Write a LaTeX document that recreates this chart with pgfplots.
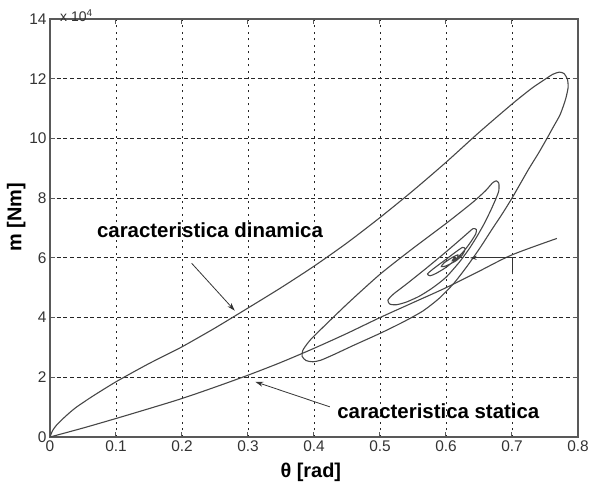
\documentclass[border=0pt]{standalone}
\usepackage{fontspec}
\setmainfont{Liberation Sans}
\usepackage{pgfplots}
\pgfplotsset{compat=1.18}
\usetikzlibrary{arrows.meta}

\begin{document}
\begin{tikzpicture}
\useasboundingbox (0,0) rectangle (589bp,489bp);
\begin{axis}[
  at={(50bp,52bp)}, anchor=south west,
  scale only axis, width=528bp, height=418bp,
  clip mode=individual,
  xmin=0, xmax=0.8, ymin=0, ymax=14,
  xtick={0,0.1,0.2,0.3,0.4,0.5,0.6,0.7,0.8},
  xticklabels={0,0.1,0.2,0.3,0.4,0.5,0.6,0.7,0.8},
  ytick={0,2,4,6,8,10,12,14},
  yticklabels={0,2,4,6,8,10,12,14},
  tick align=inside, xtick pos=both, ytick pos=both,
  major tick length=5bp,
  grid=major,
  x grid style={black!85, line width=0.8bp, dash pattern=on 2bp off 4.5bp},
  y grid style={black!85, line width=0.8bp, dash pattern=on 4bp off 2.7bp},
  axis line style={black!65, line width=1.2bp},
  tick style={black!65, line width=1bp},
  ticklabel style={font=\fontsize{15.5}{18}\selectfont, text=black!80},
  /pgf/number format/assume math mode=true,
  xlabel={θ [rad]}, ylabel={m [Nm]},
  label style={font=\fontsize{20}{24}\selectfont\bfseries},
  xlabel style={at={(axis description cs:0.494,-0.084)}, anchor=center},
  ylabel style={at={(axis description cs:-0.064,0.526)}, anchor=center},
]
% static characteristic
\addplot[black!72, line width=1.1bp, smooth] coordinates {
(0,0) (0.05,0.3) (0.1,0.62) (0.15,0.95) (0.2,1.29) (0.25,1.67) (0.3,2.07)
(0.35,2.5) (0.4,2.97) (0.45,3.47) (0.5,4.0) (0.55,4.5) (0.6,5.0)
(0.65,5.55) (0.7,6.1) (0.768,6.65)
};
% dynamic characteristic
\addplot[black!72, line width=1.1bp, smooth, tension=0.4] coordinates {
(0,0) (0.004,0.22) (0.01,0.4) (0.02,0.62) (0.03,0.82) (0.04,1.0) (0.06,1.3)
(0.08,1.58) (0.1,1.85) (0.125,2.16) (0.15,2.46) (0.175,2.74) (0.2,3.02)
(0.25,3.65) (0.3,4.32) (0.35,5.0) (0.4,5.72) (0.45,6.5) (0.5,7.35)
(0.55,8.25) (0.6,9.2) (0.65,10.2) (0.7,11.15) (0.73,11.68) (0.75,11.98)
(0.762,12.15) (0.772,12.22) (0.779,12.17) (0.784,11.98) (0.785,11.7)
(0.781,11.3) (0.773,10.8) (0.763,10.4) (0.753,10.0) (0.74,9.5) (0.726,9.0)
(0.713,8.5) (0.7,8.0) (0.686,7.5) (0.671,7.0) (0.652,6.35) (0.632,5.72)
(0.612,5.15) (0.59,4.65) (0.565,4.22) (0.535,3.85) (0.5,3.47) (0.46,3.07)
(0.43,2.76) (0.41,2.57) (0.398,2.52) (0.388,2.56) (0.382,2.7) (0.383,2.9)
(0.39,3.13) (0.4,3.38) (0.45,4.45) (0.5,5.45) (0.55,6.32) (0.6,7.15)
(0.64,7.85) (0.66,8.25) (0.67,8.5) (0.676,8.58) (0.68,8.5) (0.68,8.25)
(0.676,8.0) (0.668,7.6) (0.658,7.15) (0.647,6.72) (0.635,6.3) (0.62,5.85)
(0.6,5.35) (0.58,5.0) (0.56,4.72) (0.54,4.52) (0.525,4.43) (0.515,4.45)
(0.512,4.58) (0.52,4.78) (0.54,5.12) (0.57,5.65) (0.6,6.2) (0.62,6.58)
(0.634,6.85) (0.641,6.98) (0.646,6.95) (0.645,6.8) (0.638,6.55) (0.628,6.25)
(0.615,5.95) (0.6,5.68) (0.585,5.48) (0.576,5.4) (0.572,5.46) (0.58,5.62)
(0.6,5.95) (0.615,6.2) (0.625,6.35) (0.629,6.3) (0.625,6.1) (0.615,5.9)
(0.6,5.73) (0.593,5.71) (0.597,5.83) (0.61,6.02) (0.618,6.1) (0.617,6.0)
(0.61,5.92) (0.612,5.98) (0.615,6.0)
};
% annotations
\node[anchor=base west, inner sep=0pt, font=\fontsize{20.5}{24}\selectfont\bfseries]
  at (axis cs:0.071,6.69) {caracteristica dinamica};
\node[anchor=base west, inner sep=0pt, font=\fontsize{20.5}{24}\selectfont\bfseries]
  at (axis cs:0.435,0.63) {caracteristica statica};
\draw[-{Stealth[length=8bp,width=5bp]}, line width=0.8bp, black!80]
  (axis cs:0.2146,5.82) -- (axis cs:0.280,4.23);
\draw[-{Stealth[length=8bp,width=5bp]}, line width=0.8bp, black!80]
  (axis cs:0.424,1.01) -- (axis cs:0.311,1.85);
\draw[-{Stealth[length=7bp,width=4bp]}, line width=0.8bp, black!80]
  (axis cs:0.7,5.45) -- (axis cs:0.7,6.0) -- (axis cs:0.636,6.0);
\node[anchor=west, inner sep=0pt, font=\fontsize{14}{16}\selectfont, text=black!80]
  at (rel axis cs:0.019,1.008) {x 10\raisebox{0.8ex}{\fontsize{10}{11}\selectfont 4}};
\end{axis}
\end{tikzpicture}
\end{document}
